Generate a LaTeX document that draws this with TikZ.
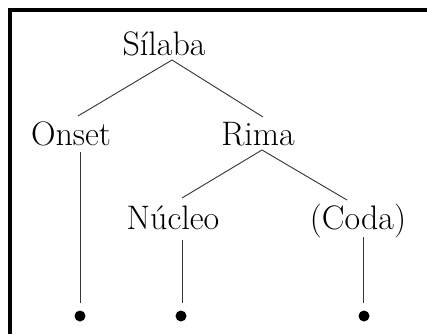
\documentclass[tikz,border=0pt]{standalone}
\begin{document}
\begin{tikzpicture}[x=1pt,y=-1pt,
  lbl/.style={anchor=base,inner sep=0pt,font=\fontsize{34}{40}\selectfont},
  branch/.style={draw=black!80,line width=0.9pt},
  dotnode/.style={circle,fill=black,inner sep=0pt,minimum size=11pt},
  frame/.style={draw=black,line width=4pt}]
\useasboundingbox (0,0) rectangle (427,334);
% frame (top and left)
\coordinate (fa) at (10,334);
\coordinate (fb) at (10,10);
\coordinate (fc) at (427,10);
\draw[frame] (fa) -- (fb) -- (fc);
% labels
\node[lbl] (sil) at (164,56) {Sílaba};
\node[lbl] (ons) at (71,145) {Onset};
\node[lbl] (rim) at (258,145) {Rima};
\node[lbl] (nuc) at (173,229) {Núcleo};
\node[lbl] (cod) at (358,229) {(Coda)};
% connector end points
\coordinate (silb) at (172,60);
\coordinate (onst) at (78,116);
\coordinate (rimt) at (263,117);
\coordinate (rimb) at (262,150);
\coordinate (nuct) at (182,198);
\coordinate (codt) at (347,200);
\coordinate (onsb) at (80,152);
\coordinate (nucb) at (182,240);
\coordinate (codb) at (363,237);
% dots
\node[dotnode] (d1) at (80,316) {};
\node[dotnode] (d2) at (181,316) {};
\node[dotnode] (d3) at (364,316) {};
\coordinate (d1t) at (80,303);
\coordinate (d2t) at (182,303);
\coordinate (d3t) at (363,303);
% branches
\draw[branch] (onst) -- (silb) -- (rimt);
\draw[branch] (nuct) -- (rimb) -- (codt);
\draw[branch] (onsb) -- (d1t);
\draw[branch] (nucb) -- (d2t);
\draw[branch] (codb) -- (d3t);
\end{tikzpicture}
\end{document}
